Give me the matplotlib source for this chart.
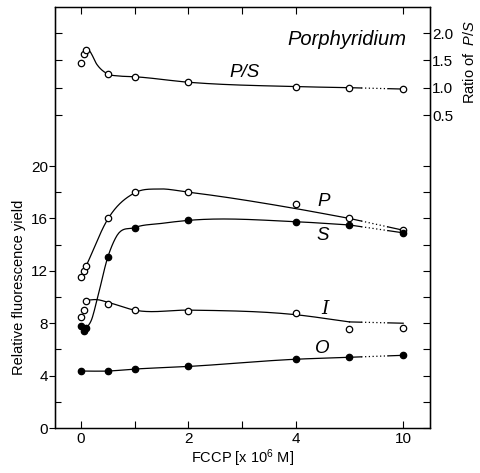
import numpy as np
import matplotlib
matplotlib.use("Agg")
import matplotlib.pyplot as plt

plt.rcParams['font.family'] = ['Liberation Sans', 'DejaVu Sans']
plt.rcParams['mathtext.fontset'] = 'custom'
plt.rcParams['mathtext.rm'] = 'Liberation Sans'
plt.rcParams['mathtext.it'] = 'Liberation Sans:italic'

# FCCP concentration (x 10^6 M)
conc = [0, 0.05, 0.1, 0.5, 1, 2, 4, 5, 10]
conc_O = [0, 0.5, 1, 2, 4, 5, 10]

# measured points (relative fluorescence yield)
P = [11.5, 12.0, 12.4, 16.0, 18.0, 18.0, 17.1, 16.0, 15.1]
S = [7.8, 7.4, 7.6, 13.05, 15.3, 15.85, 15.75, 15.5, 14.9]
I = [8.5, 9.0, 9.7, 9.5, 9.0, 8.95, 8.75, 7.55, 7.6]
O = [4.35, 4.35, 4.5, 4.7, 5.25, 5.4, 5.55]
PS = [1.46, 1.61, 1.69, 1.25, 1.20, 1.10, 1.02, 1.00, 0.975]

# hand-drawn curves (knots, up to 5; then dotted to 10)
P_cx = [0.1, 0.5, 1.0, 1.45, 2, 4, 5]
P_cy = [12.4, 15.95, 17.95, 18.25, 18.0, 16.75, 16.0]
P_end = 15.1
S_cx = [0.1, 0.2, 0.3, 0.5, 0.65, 1, 1.5, 2, 4, 5]
S_cy = [7.6, 8.3, 9.8, 13.05, 14.55, 15.3, 15.62, 15.85, 15.75, 15.5]
S_end = 14.9
I_cx = [0.1, 0.3, 0.5, 1, 2, 4, 5]
I_cy = [9.75, 9.8, 9.6, 9.0, 9.0, 8.65, 8.1]
I_end = 8.0
O_cx = [0, 0.5, 1, 2, 4, 5]
O_cy = [4.35, 4.35, 4.5, 4.7, 5.25, 5.4]
O_end = 5.55
PS_cx = [0.1, 0.15, 0.3, 0.5, 0.7, 1, 2, 4, 5]
PS_cy = [1.70, 1.68, 1.42, 1.25, 1.215, 1.20, 1.10, 1.02, 1.00]
PS_end = 0.975


def xpos(x):
    # broken axis: 0-5 linear, 10 drawn one unit after 5
    x = np.asarray(x, dtype=float)
    return np.where(x > 5, 5 + (x - 5) / 5, x)


def smooth(xk, yk, n=300):
    xk = np.asarray(xk, float)
    yk = np.asarray(yk, float)
    m = np.gradient(yk, xk)
    xs = np.linspace(xk[0], xk[-1], n)
    i = np.clip(np.searchsorted(xk, xs) - 1, 0, len(xk) - 2)
    h = xk[i + 1] - xk[i]
    t = (xs - xk[i]) / h
    ys = ((2 * t**3 - 3 * t**2 + 1) * yk[i] + (t**3 - 2 * t**2 + t) * h * m[i]
          + (-2 * t**3 + 3 * t**2) * yk[i + 1] + (t**3 - t**2) * h * m[i + 1])
    return xs, ys


def draw_curve(ax, cx, cy, end):
    xs, ys = smooth(cx, cy)
    ax.plot(xs, ys, color='black', lw=0.9, zorder=2)
    x0, x1 = 5.0, 6.0
    y0 = cy[-1]
    f = lambda x: y0 + (end - y0) * (x - x0) / (x1 - x0)
    ax.plot([x0, 5.22], [f(x0), f(5.22)], color='black', lw=0.9)
    ax.plot([5.22, 5.72], [f(5.22), f(5.72)], color='black', lw=0.9, ls=(0, (1, 2)))
    ax.plot([5.72, x1], [f(5.72), f(x1)], color='black', lw=0.9)


fig = plt.figure(figsize=(4.81, 4.73), dpi=100)
ax = fig.add_axes([0.1143, 0.0951, 0.7797, 0.8901])
ax2 = ax.twinx()

ax.set_xlim(-0.484, 6.5)
ax.set_ylim(0, 32.14)
ax2.set_ylim(-5.226, 2.476)

for cx, cy, end in [(P_cx, P_cy, P_end), (S_cx, S_cy, S_end),
                    (I_cx, I_cy, I_end), (O_cx, O_cy, O_end)]:
    draw_curve(ax, cx, cy, end)
draw_curve(ax2, PS_cx, PS_cy, PS_end)

ms = 4.6
ax.plot(xpos(conc), P, 'o', ms=ms, mfc='white', mec='black', mew=0.9, zorder=3)
ax.plot(xpos(conc), I, 'o', ms=ms, mfc='white', mec='black', mew=0.9, zorder=3)
ax.plot(xpos(conc), S, 'o', ms=ms, mfc='black', mec='black', mew=0.9, zorder=3)
ax.plot(xpos(conc_O), O, 'o', ms=ms, mfc='black', mec='black', mew=0.9, zorder=3)
ax2.plot(xpos(conc), PS, 'o', ms=ms, mfc='white', mec='black', mew=0.9, zorder=3)

# labels on curves
ax.text(4.52, 17.3, 'P', style='italic', fontsize=13.5, ha='center', va='center')
ax.text(4.5, 14.7, 'S', style='italic', fontsize=13.5, ha='center', va='center')
ax.text(4.54, 9.1, 'I', style='italic', fontsize=13.5, ha='center', va='center',
        family='DejaVu Serif')
ax.text(4.5, 6.05, 'O', style='italic', fontsize=13.5, ha='center', va='center')
ax2.text(3.05, 1.27, 'P/S', style='italic', fontsize=13.5, ha='center', va='center')
ax.text(0.779, 0.922, 'Porphyridium', style='italic', fontsize=14.5,
        ha='center', va='center', transform=ax.transAxes)

# x axis
ax.set_xticks(xpos([0, 1, 2, 3, 4, 10]))
ax.set_xticklabels(['0', '', '2', '', '4', '10'])
ax.tick_params(axis='x', direction='in', top=True, length=5, width=0.8,
               labelsize=11, pad=3)
ax.set_xlabel('FCCP [x 10$^6$ M]', fontsize=10.5, labelpad=1)

# left y axis
ax.set_yticks([0, 4, 8, 12, 16, 20])
ax.set_yticks([2, 6, 10, 14, 18], minor=True)
ax.tick_params(axis='y', which='major', direction='out', length=4, width=0.8,
               labelsize=11, pad=1)
ax.tick_params(axis='y', which='minor', direction='in', length=4, width=0.8)
ax.set_ylabel('Relative fluorescence yield', fontsize=10.5, labelpad=4)
ax.yaxis.set_label_coords(-0.077, 0.335)

sec = ax.secondary_yaxis('right')
sec.set_yticks([0, 2, 4, 6, 8, 10, 12, 14, 16, 18, 20])
sec.tick_params(direction='in', length=5, width=0.8, labelright=False)

# right ratio axis
ax2.set_yticks([0.5, 1.0, 1.5, 2.0])
ax2.set_yticklabels(['0.5', '1.0', '1.5', '2.0'])
ax2.tick_params(axis='y', direction='in', length=5, width=0.8, labelsize=11, pad=1.5)
ax2.set_ylabel('Ratio of  $\\mathit{P/S}$', fontsize=10.5, labelpad=4)
ax2.yaxis.set_label_coords(1.085, 0.87)

sec2 = ax2.secondary_yaxis('left')
sec2.set_yticks([0.5, 1.0, 1.5, 2.0])
sec2.tick_params(direction='in', length=5, width=0.8, labelleft=False)

for a in (ax, ax2):
    for s in a.spines.values():
        s.set_linewidth(0.9)

fig.savefig('out.png', dpi=100)
